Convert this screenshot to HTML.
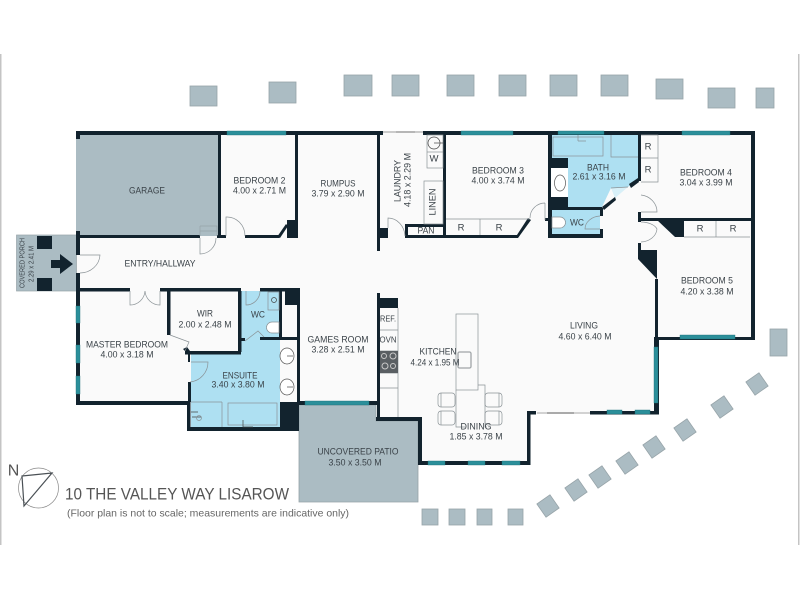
<!DOCTYPE html>
<html><head><meta charset="utf-8"><style>
html,body{margin:0;padding:0;background:#fff}
svg{display:block}
text{font-family:"Liberation Sans",sans-serif;fill:#3a4248;font-size:9.5px;text-anchor:middle;dominant-baseline:central}
</style></head><body>
<svg width="800" height="600" viewBox="0 0 800 600" xmlns="http://www.w3.org/2000/svg">
<rect width="800" height="600" fill="#fff"/>
<rect x="0" y="54" width="1.5" height="491" fill="#c4c4c4"/>
<rect x="798" y="54" width="1.5" height="491" fill="#c4c4c4"/>

<!-- pavers -->
<g fill="#abbcc3" stroke="#97a4a9" stroke-width="0.8">
<rect x="190" y="86" width="27" height="20"/><rect x="269" y="82" width="27" height="21"/>
<rect x="344" y="75" width="28" height="21"/><rect x="392" y="75" width="27" height="21"/>
<rect x="447" y="75" width="27" height="21"/><rect x="499" y="75" width="27" height="21"/>
<rect x="550" y="75" width="27" height="21"/><rect x="601" y="75" width="27" height="21"/>
<rect x="656" y="79" width="27" height="20"/><rect x="708" y="88" width="27" height="20"/>
<rect x="756" y="88" width="18" height="20"/><rect x="770" y="329" width="17" height="27"/>
<rect x="422" y="509" width="16" height="16"/><rect x="449" y="509" width="16" height="16"/>
<rect x="477" y="509" width="15" height="16"/><rect x="508" y="509" width="15" height="16"/>
<rect x="-8" y="-8" width="16" height="16" transform="translate(757,384) rotate(-35)"/>
<rect x="-8" y="-8" width="16" height="16" transform="translate(722,407) rotate(-35)"/>
<rect x="-8" y="-8" width="16" height="16" transform="translate(685,430) rotate(-35)"/>
<rect x="-8" y="-8" width="16" height="16" transform="translate(654,447) rotate(-35)"/>
<rect x="-8" y="-8" width="16" height="16" transform="translate(627,463) rotate(-35)"/>
<rect x="-8" y="-8" width="16" height="16" transform="translate(600,477) rotate(-35)"/>
<rect x="-8" y="-8" width="16" height="16" transform="translate(576,490) rotate(-35)"/>
<rect x="-8" y="-8" width="16" height="16" transform="translate(548,506) rotate(-35)"/>
</g>

<!-- floor -->
<path d="M76 131H755V340H659V414H530V465H418V421H376V405H298V431H187V405H76Z" fill="#fafafa"/>
<!-- grey zones -->
<rect x="76" y="135" width="142" height="101" fill="#abbcc3"/>
<rect x="16.5" y="235" width="60" height="56" fill="#abbcc3" stroke="#97a4a9" stroke-width="0.7"/>
<path d="M299 405H376V421H418V502H299Z" fill="#abbcc3" stroke="#97a4a9" stroke-width="0.8"/>
<!-- blue zones -->
<path d="M552 135H638V180L628 187 611 188 602 207H568V158H552Z" fill="#aee0f2"/>
<rect x="552" y="210" width="48" height="24" fill="#aee0f2"/>
<path d="M611 188L628 187 615 198Z" fill="#d8f0f8"/>
<rect x="191" y="354" width="89" height="48" fill="#aee0f2"/>
<rect x="191" y="402" width="89" height="25" fill="#aee0f2"/>
<rect x="241" y="291" width="38" height="49" fill="#aee0f2"/>
<rect x="241" y="340" width="39" height="14" fill="#aee0f2"/>

<!-- walls -->
<g fill="#12232e">
<rect x="76" y="131" width="307" height="4"/><rect x="423" y="131" width="332" height="4"/>
<rect x="76" y="131" width="4" height="8"/>
<rect x="76" y="231" width="4" height="24"/><rect x="76" y="273" width="4" height="132"/>
<rect x="76" y="401" width="114" height="4"/>
<rect x="76" y="235" width="124" height="3"/><rect x="217" y="235" width="9" height="3"/>
<rect x="245" y="235" width="34" height="3"/>
<rect x="218" y="135" width="3" height="101"/>
<rect x="295" y="135" width="3" height="103"/>
<rect x="287" y="220" width="11" height="18"/>
<path d="M277 237L286 224 288 226 280 238Z"/>
<rect x="377" y="135" width="3" height="116"/><rect x="377" y="228" width="11" height="10"/>
<rect x="405" y="235" width="112" height="3"/><rect x="405" y="224" width="3" height="14"/><rect x="405" y="224" width="41" height="3"/>
<rect x="443" y="135" width="3" height="103"/>
<path d="M515 238L528 218 531 220 518 238Z"/>
<rect x="548" y="131" width="4" height="107"/><rect x="548" y="234" width="54" height="4"/>
<rect x="545" y="218" width="3" height="3"/>
<rect x="552" y="158" width="16" height="10"/><rect x="552" y="197" width="16" height="11"/>
<rect x="552" y="207" width="50" height="3"/>
<rect x="600" y="208" width="3" height="8"/><rect x="600" y="229" width="3" height="9"/>
<path d="M602 207L615 197 616 200 604 210Z"/><path d="M629 184L638 178 639 182 631 188Z"/>
<rect x="638" y="131" width="3" height="50"/><rect x="638" y="212" width="3" height="10"/>
<rect x="641" y="218" width="114" height="3"/>
<path d="M657 220H684V237H675Z"/>
<path d="M638 243H641V250H657V279L638 259Z"/>
<rect x="751" y="131" width="4" height="209"/>
<rect x="655" y="279" width="3" height="61"/>
<rect x="655" y="337" width="100" height="3"/>
<rect x="654" y="337" width="5" height="77"/>
<rect x="590" y="411" width="69" height="3.5"/>
<rect x="527" y="411" width="9" height="3.5"/><rect x="527" y="411" width="3.5" height="54"/>
<rect x="418" y="461" width="112.500" height="4"/>
<rect x="418" y="417" width="4" height="48"/>
<rect x="376" y="417" width="46" height="4"/>
<rect x="377" y="293" width="3" height="128"/><rect x="380" y="298" width="18" height="10"/>
<rect x="299" y="401" width="81" height="4"/>
<rect x="80" y="288" width="50" height="3.500"/><rect x="160" y="288" width="81" height="3.500"/>
<rect x="260" y="288" width="38" height="3.500"/>
<rect x="167" y="291" width="3.500" height="44"/><rect x="238" y="291" width="3.500" height="61"/>
<rect x="185" y="351" width="56" height="3.500"/>
<path d="M183 349L187 347 190 351 190 362 188 362 188 354Z"/>
<rect x="188" y="382" width="3" height="20"/>
<rect x="260" y="337" width="37" height="3"/><rect x="238" y="338" width="7" height="3"/>
<rect x="279" y="291" width="3" height="49"/><rect x="285" y="291" width="12" height="14"/>
<rect x="297" y="288" width="3" height="114"/>
<rect x="187" y="401" width="3.500" height="30"/><rect x="187" y="427" width="111" height="4"/>
<rect x="280" y="402" width="19" height="29"/>
<rect x="37" y="236" width="15" height="13"/><rect x="37" y="278" width="15" height="13"/>
<path d="M51 260H60V254L73 264 60 274V268H51Z"/>
</g>

<!-- windows -->
<g fill="#2b8f9a" stroke="#1c6f78" stroke-width="0.4">
<rect x="227" y="131" width="59" height="4"/><rect x="461" y="131" width="52" height="4"/>
<rect x="558" y="131" width="46" height="3.500"/><rect x="682" y="131" width="48" height="4"/>
<rect x="76" y="306" width="4" height="17"/><rect x="76" y="345" width="4" height="18"/><rect x="76" y="376" width="4" height="18"/>
<rect x="305" y="401" width="64" height="4"/>
<rect x="428" y="461" width="17" height="4"/><rect x="468" y="461" width="17" height="4"/><rect x="502" y="461" width="18" height="4"/>
<rect x="607" y="410" width="15" height="4"/><rect x="635" y="410" width="15" height="4"/>
<rect x="654" y="347" width="4" height="56"/>
<rect x="680" y="335" width="55" height="4"/>
</g>

<!-- fittings and thin lines -->
<g fill="none" stroke="#8a9296" stroke-width="0.7">
<path d="M383 132H423" stroke="#bbb" stroke-width="1.500"/>
<path d="M396 132H415" stroke="#aaa" stroke-width="1.500"/>
<path d="M537 413H590" stroke="#bbb" stroke-width="1.200"/>
<path d="M547 413H574" stroke="#aaa" stroke-width="2"/>
<path d="M200 226H217V236M200 231H217M200 226V236" stroke="#97a4a9"/>
<!-- doors -->
<path d="M80 255H100A20 19 0 0 1 80 273" />
<path d="M200 238V254A16 16 0 0 0 216 238"/>
<path d="M226 236V217A18 19 0 0 1 245 236"/>
<path d="M130 291V305A15 15 0 0 0 145 291M160 291V305A15 15 0 0 1 145 291"/>
<path d="M246 291V305A14 14 0 0 0 260 291"/>
<path d="M170 335L189 342 185 351" />
<path d="M191 362H208A20 20 0 0 1 190 382"/>
<path d="M245 341L258 331 264 337"/>
<path d="M388 228V218A17 19 0 0 1 405 236"/>
<path d="M545 203V220M530 218A15 15 0 0 1 545 203"/>
<path d="M600 216A16 13 0 0 0 585 229H600"/>
<path d="M641 195A18 17 0 0 1 657 212H641"/>
<path d="M641 222A17 10 0 0 1 657 229A17 14 0 0 1 641 242"/>
<path d="M611 188L628 187"/>
<!-- laundry -->
<rect x="427" y="135" width="16" height="33"/><path d="M427 152H443"/>
<circle cx="434" cy="143" r="6" stroke="#444"/><path d="M434 143H443" stroke="#444"/>
<rect x="424" y="181" width="19" height="43"/>
<!-- R cupboards -->
<path d="M446 219H530M480 219V235"/>
<path d="M641 158H658M641 135H658V182H641"/>
<path d="M684 237H750M716 221V237"/>
<!-- bath -->
<rect x="553" y="137" width="50" height="19"/>
<path d="M611 135V157H638"/>
<path d="M578 135V141M586 141H578"/>
<rect x="551" y="168" width="17" height="29" fill="#fff" stroke="none"/>
<ellipse cx="560" cy="183" rx="5.500" ry="8" stroke="#555"/>
<path d="M552 217H560A5.500 5.500 0 0 1 560 228H552Z" fill="#fff"/>
<!-- ensuite -->
<path d="M191 402H222M222 402V427"/>
<rect x="228" y="403" width="49" height="22"/>
<rect x="280" y="340" width="17" height="62" fill="#fafafa" stroke="none"/>
<ellipse cx="287" cy="356" rx="7" ry="8" fill="#fff" stroke="#555"/><ellipse cx="287" cy="387" rx="7" ry="8" fill="#fff" stroke="#555"/>
<path d="M287 356H293M287 387H293" stroke="#555"/>
<path d="M191 412H198M192 417H201" stroke="#444"/>
<circle cx="199" cy="418" r="2.500"/>
<path d="M243 420V427H253" stroke="#444"/>
<rect x="268" y="292" width="11" height="18"/>
<circle cx="274" cy="300" r="2.500" stroke="#444"/>
<path d="M279 322H272A5.500 5.500 0 0 0 272 333H279Z" fill="#fff"/>
<!-- kitchen -->
<path d="M380 330H398M380 351H398M380 373H398M380 388H398M398 308V417"/>
<rect x="456" y="314" width="22" height="76"/>
<path d="M456 390V427H465M487 427H485V385H478"/>
<rect x="458" y="352" width="13" height="16" rx="1.500" stroke-width="1.300" stroke="#a0a5a8"/>
<rect x="438" y="393" width="17" height="14" rx="3"/><rect x="438" y="411" width="17" height="14" rx="3"/>
<rect x="485" y="393" width="17" height="14" rx="3"/><rect x="485" y="411" width="17" height="14" rx="3"/>
<path d="M441 393V407M441 411V425M499 393V407M499 411V425"/>
</g>
<rect x="380" y="351" width="18" height="22" fill="#5a5f63"/>
<g fill="none" stroke="#c9c9c9" stroke-width="1">
<circle cx="384" cy="356" r="2.500"/><circle cx="393" cy="356" r="3"/><circle cx="385" cy="366" r="3"/><circle cx="393" cy="366" r="2.500"/>
</g>

<!-- labels -->
<text x="147" y="191" textLength="36" lengthAdjust="spacingAndGlyphs">GARAGE</text>
<text x="259.500" y="181" textLength="52" lengthAdjust="spacingAndGlyphs">BEDROOM 2</text>
<text x="259.500" y="191" textLength="53" lengthAdjust="spacingAndGlyphs">4.00 x 2.71 M</text>
<text x="160" y="264" textLength="71" lengthAdjust="spacingAndGlyphs">ENTRY/HALLWAY</text>
<text x="338" y="184" textLength="35" lengthAdjust="spacingAndGlyphs">RUMPUS</text>
<text x="338" y="194" textLength="53" lengthAdjust="spacingAndGlyphs">3.79 x 2.90 M</text>
<text transform="translate(398,181) rotate(-90)" textLength="42" lengthAdjust="spacingAndGlyphs">LAUNDRY</text>
<text transform="translate(408,180) rotate(-90)" textLength="54" lengthAdjust="spacingAndGlyphs">4.18 x 2.29 M</text>
<text transform="translate(433,202) rotate(-90)" textLength="27" lengthAdjust="spacingAndGlyphs">LINEN</text>
<text x="434" y="159">W</text>
<text x="426" y="231" textLength="17" lengthAdjust="spacingAndGlyphs">PAN</text>
<text x="461" y="228">R</text><text x="499" y="228">R</text>
<text x="498" y="171" textLength="52" lengthAdjust="spacingAndGlyphs">BEDROOM 3</text>
<text x="498" y="181" textLength="53" lengthAdjust="spacingAndGlyphs">4.00 x 3.74 M</text>
<text x="598" y="168" textLength="22" lengthAdjust="spacingAndGlyphs">BATH</text>
<text x="599" y="177" textLength="53" lengthAdjust="spacingAndGlyphs">2.61 x 3.16 M</text>
<text x="577" y="223" textLength="14" lengthAdjust="spacingAndGlyphs">WC</text>
<text x="648" y="147">R</text><text x="648" y="170">R</text>
<text x="706" y="173" textLength="52" lengthAdjust="spacingAndGlyphs">BEDROOM 4</text>
<text x="706" y="183" textLength="53" lengthAdjust="spacingAndGlyphs">3.04 x 3.99 M</text>
<text x="700" y="229">R</text><text x="733" y="229">R</text>
<text x="707" y="281" textLength="52" lengthAdjust="spacingAndGlyphs">BEDROOM 5</text>
<text x="707" y="292" textLength="53" lengthAdjust="spacingAndGlyphs">4.20 x 3.38 M</text>
<text x="584" y="326" textLength="28" lengthAdjust="spacingAndGlyphs">LIVING</text>
<text x="585" y="337" textLength="53" lengthAdjust="spacingAndGlyphs">4.60 x 6.40 M</text>
<text x="438" y="352" textLength="37" lengthAdjust="spacingAndGlyphs">KITCHEN</text>
<text x="435" y="363" textLength="49" lengthAdjust="spacingAndGlyphs">4.24 x 1.95 M</text>
<text x="476" y="427" textLength="31" lengthAdjust="spacingAndGlyphs">DINING</text>
<text x="476" y="437" textLength="53" lengthAdjust="spacingAndGlyphs">1.85 x 3.78 M</text>
<text x="338" y="340" textLength="61" lengthAdjust="spacingAndGlyphs">GAMES ROOM</text>
<text x="338" y="350" textLength="53" lengthAdjust="spacingAndGlyphs">3.28 x 2.51 M</text>
<text x="358" y="452" textLength="81" lengthAdjust="spacingAndGlyphs">UNCOVERED PATIO</text>
<text x="355" y="463" textLength="53" lengthAdjust="spacingAndGlyphs">3.50 x 3.50 M</text>
<text x="205" y="314" textLength="16" lengthAdjust="spacingAndGlyphs">WIR</text>
<text x="205" y="325" textLength="53" lengthAdjust="spacingAndGlyphs">2.00 x 2.48 M</text>
<text x="258" y="315" textLength="14" lengthAdjust="spacingAndGlyphs">WC</text>
<text x="127" y="345" textLength="82" lengthAdjust="spacingAndGlyphs">MASTER BEDROOM</text>
<text x="127" y="355" textLength="53" lengthAdjust="spacingAndGlyphs">4.00 x 3.18 M</text>
<text x="240" y="376" textLength="35" lengthAdjust="spacingAndGlyphs">ENSUITE</text>
<text x="238" y="385" textLength="53" lengthAdjust="spacingAndGlyphs">3.40 x 3.80 M</text>
<text x="388" y="319" style="font-size:8px" textLength="16" lengthAdjust="spacingAndGlyphs">REF.</text>
<text x="388" y="340" style="font-size:8px" textLength="17" lengthAdjust="spacingAndGlyphs">OVN</text>
<text transform="translate(23,263) rotate(-90)" style="font-size:7px" textLength="50" lengthAdjust="spacingAndGlyphs">COVERED PORCH</text>
<text transform="translate(32,264) rotate(-90)" style="font-size:7px" textLength="36" lengthAdjust="spacingAndGlyphs">2.29 x 2.41 M</text>

<!-- compass and title -->
<circle cx="38.500" cy="488" r="20" fill="none" stroke="#888" stroke-width="0.7"/>
<path d="M22 476L52 473 24 506Z" fill="none" stroke="#4a5055" stroke-width="1.200"/>
<text x="13.500" y="471" style="font-size:16px;fill:#555">N</text>
<text x="177" y="494" style="font-size:17px;fill:#555" textLength="224" lengthAdjust="spacingAndGlyphs">10 THE VALLEY WAY LISAROW</text>
<text x="208" y="513.500" style="font-size:10.500px;fill:#666" textLength="282" lengthAdjust="spacingAndGlyphs">(Floor plan is not to scale; measurements are indicative only)</text>
</svg>
</body></html>
